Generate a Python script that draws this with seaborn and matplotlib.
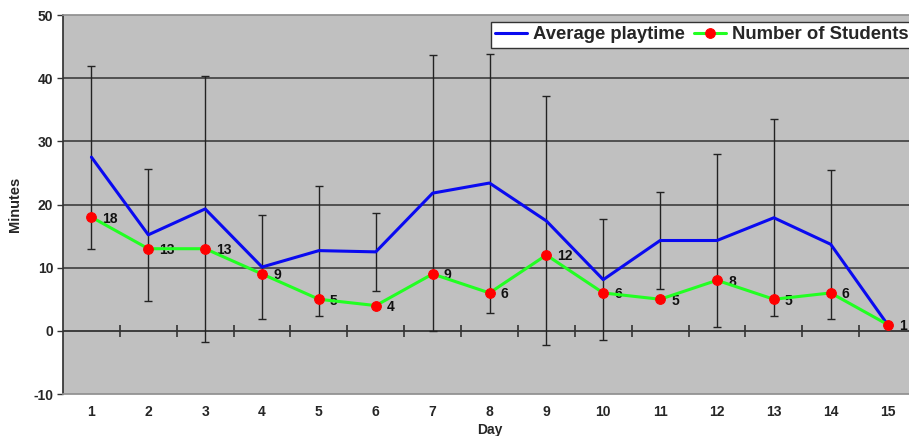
import numpy as np
import pandas as pd
import matplotlib
matplotlib.use("Agg")
import matplotlib.pyplot as plt
import seaborn as sns

# Dados
days = list(range(1, 16))
avg_playtime = [27.5, 15.2, 19.3, 10.1, 12.7, 12.5, 21.8, 23.4, 17.4, 8.1, 14.3, 14.3, 17.9, 13.7, 1.0]
playtime_std = [14.5, 10.4, 21.0, 8.2, 10.3, 6.2, 21.9, 20.5, 19.7, 9.6, 7.7, 13.7, 15.6, 11.8, 0.0]
num_students = [18, 13, 13, 9, 5, 4, 9, 6, 12, 6, 5, 8, 5, 6, 1]

df = pd.DataFrame({"day": days, "avg": avg_playtime, "std": playtime_std, "students": num_students})

sns.set_theme(style="white")
plt.rcParams["font.family"] = ["Liberation Sans", "DejaVu Sans"]

fig = plt.figure(figsize=(9.09, 4.36), dpi=100)
ax = fig.add_axes([63 / 909, 42 / 436, 853 / 909, 379 / 436])
ax.set_facecolor("#C0C0C0")

# grade horizontal
for v in [10, 20, 30, 40]:
    ax.axhline(v, color="#333333", lw=1.1, zorder=1)
ax.axhline(0, color="#333333", lw=1.3, zorder=1)
ax.plot(np.array(days[:-1]) + 0.5, np.zeros(len(days) - 1), ls="none", marker="|",
        color="#333333", markersize=8, markeredgewidth=1.2, zorder=1)

# barras de erro
err = df[df["std"] > 0]
ax.errorbar(err["day"], err["avg"], yerr=err["std"], fmt="none", ecolor="#222222",
            elinewidth=1, capsize=3, capthick=1, zorder=2)

sns.lineplot(data=df, x="day", y="avg", ax=ax, color="#0A0AF0", lw=2.2,
             label="Average playtime", zorder=3)
sns.lineplot(data=df, x="day", y="students", ax=ax, color="#22FF22", lw=2.2,
             marker="o", markersize=7, markerfacecolor="red", markeredgecolor="red",
             label="Number of Students", zorder=4)

for d, n in zip(days, num_students):
    ax.annotate(str(n), (d, n), xytext=(8, -1), textcoords="offset points",
                ha="left", va="center", fontsize=10, fontweight="bold", color="#111111")

ax.set_xlim(0.5, 15.5)
ax.set_ylim(-10, 50)
ax.set_yticks(range(-10, 51, 10))
ax.set_xticks(days)
ax.set_xticklabels([str(d) for d in days], fontsize=10, fontweight="bold")
ax.set_yticklabels([str(v) for v in range(-10, 51, 10)], fontsize=10, fontweight="bold")
ax.tick_params(axis="x", length=0, pad=8)
ax.tick_params(axis="y", length=4, width=1, color="#333333", direction="out", pad=3, left=True)

ax.set_xlabel("Day", fontsize=10, fontweight="bold", labelpad=3)
ax.set_ylabel("Minutes", fontsize=10.5, fontweight="bold", labelpad=8)

for side in ["top", "bottom"]:
    ax.spines[side].set_color("#909090")
ax.spines["left"].set_color("#333333")
ax.spines["right"].set_visible(False)

leg = ax.legend(loc="upper right", bbox_to_anchor=(1.0, 0.99), ncol=2, frameon=True,
                fancybox=False, edgecolor="#333333", framealpha=1, handlelength=1.75,
                handletextpad=0.3, columnspacing=0.5, borderpad=0.25, borderaxespad=0.15,
                prop={"weight": "bold", "size": 13.3})
leg.get_frame().set_linewidth(1)

plt.savefig("out.png", dpi=100)
